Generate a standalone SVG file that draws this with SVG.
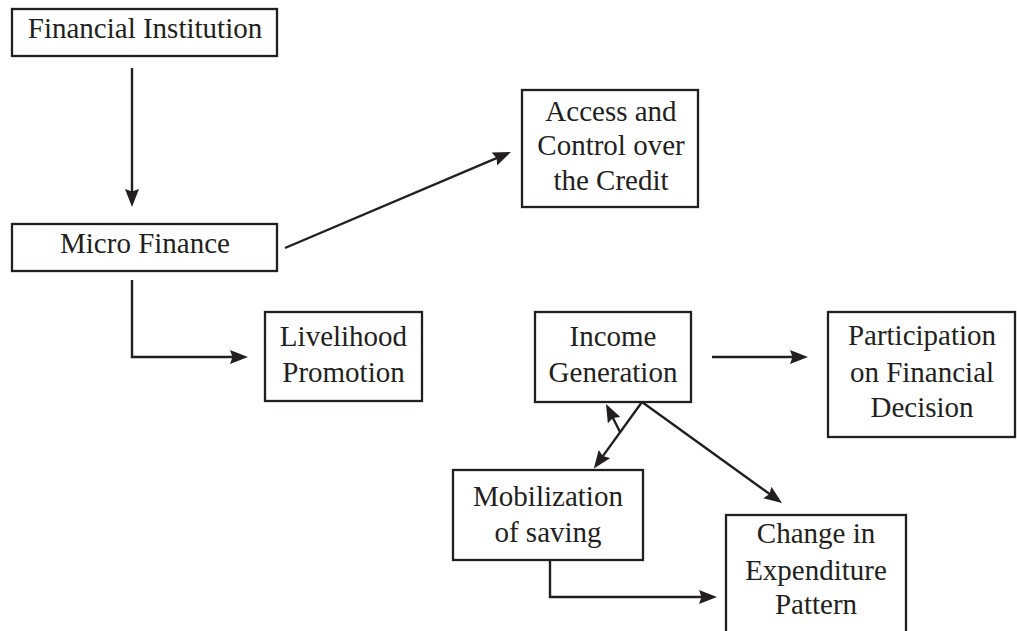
<svg xmlns="http://www.w3.org/2000/svg" width="1017" height="631" viewBox="0 0 1017 631">
<style>
.box{fill:#fff;stroke:#231f20;stroke-width:2.3}
.lbl{font-family:"Liberation Serif","Times New Roman",serif;font-size:29px;fill:#231f20;text-anchor:middle}
.con{fill:none;stroke:#231f20;stroke-width:2.4}
</style>
<defs>
<marker id="ah" markerUnits="userSpaceOnUse" markerWidth="20" markerHeight="16" refX="10" refY="7" orient="auto">
<path d="M0,0 L18,7 L0,14 L2.5,7 z" fill="#231f20"/>
</marker>
</defs>
<rect width="1017" height="631" fill="#fff"/>
<g id="connectors">
<path class="con" d="M132,68 L132,199" marker-end="url(#ah)"/>
<path class="con" d="M132,280 L132,357 L240,357" marker-end="url(#ah)"/>
<path class="con" d="M285,248 L503.6,155.1" marker-end="url(#ah)"/>
<path class="con" d="M712,357 L800,357" marker-end="url(#ah)"/>
<path class="con" d="M642,402 L598.5,462.1" marker-end="url(#ah)"/>
<path class="con" d="M620,432 L609.6,411.2" marker-end="url(#ah)"/>
<path class="con" d="M642,402 L775.5,498.3" marker-end="url(#ah)"/>
<path class="con" d="M550,560 L550,597 L709,597" marker-end="url(#ah)"/>
</g>
<g id="financial-institution">
<rect class="box" x="12" y="9" width="265" height="47"/>
<text class="lbl" x="145" y="37.5">Financial Institution</text>
</g>
<g id="micro-finance">
<rect class="box" x="12" y="224" width="265" height="47"/>
<text class="lbl" x="145" y="253">Micro Finance</text>
</g>
<g id="access-control">
<rect class="box" x="522" y="90" width="176" height="117"/>
<text class="lbl" x="611" y="121">Access and</text>
<text class="lbl" x="611" y="155">Control over</text>
<text class="lbl" x="611" y="190">the Credit</text>
</g>
<g id="livelihood">
<rect class="box" x="265" y="312" width="157" height="89"/>
<text class="lbl" x="343.5" y="346">Livelihood</text>
<text class="lbl" x="343.5" y="382">Promotion</text>
</g>
<g id="income-generation">
<rect class="box" x="535" y="312" width="156" height="90"/>
<text class="lbl" x="613" y="346">Income</text>
<text class="lbl" x="613" y="382">Generation</text>
</g>
<g id="participation">
<rect class="box" x="828" y="312" width="187" height="125"/>
<text class="lbl" x="922" y="345">Participation</text>
<text class="lbl" x="922" y="381.5">on Financial</text>
<text class="lbl" x="922" y="416.5">Decision</text>
</g>
<g id="mobilization">
<rect class="box" x="453" y="470" width="190" height="90"/>
<text class="lbl" x="548" y="506">Mobilization</text>
<text class="lbl" x="548" y="542">of saving</text>
</g>
<g id="change-expenditure">
<rect class="box" x="726" y="515" width="180" height="130"/>
<text class="lbl" x="816" y="543">Change in</text>
<text class="lbl" x="816" y="580">Expenditure</text>
<text class="lbl" x="816" y="614">Pattern</text>
</g>
</svg>
